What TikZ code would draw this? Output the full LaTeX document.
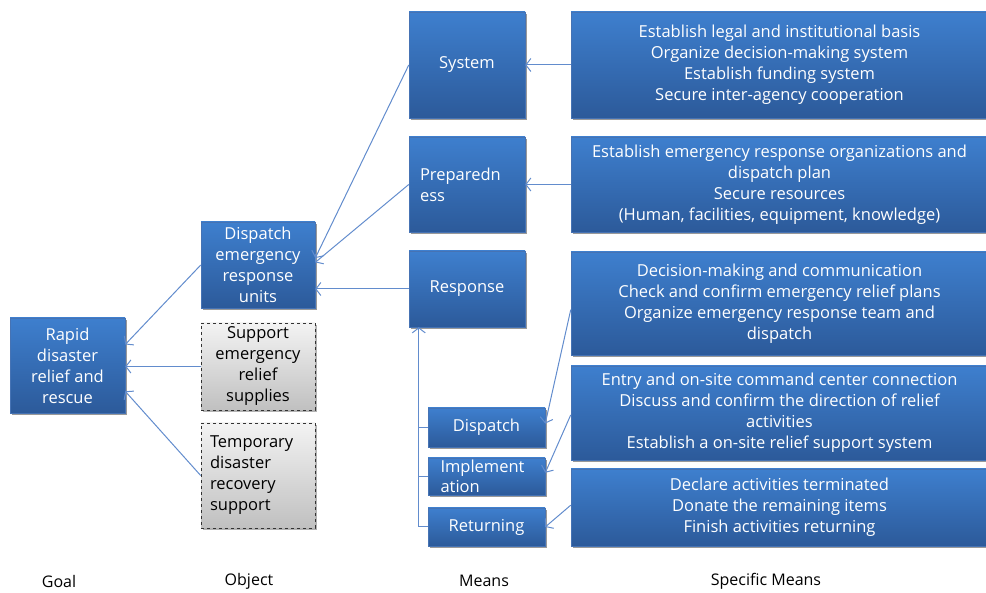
\documentclass[tikz,border=0pt]{standalone}
\usepackage{fontspec}
\setmainfont{Open Sans}
\usetikzlibrary{arrows.meta,shadows,calc}
\definecolor{btop}{RGB}{62,127,206}
\definecolor{bbot}{RGB}{44,90,154}
\definecolor{bedge}{RGB}{70,115,180}
\definecolor{gtop}{RGB}{243,243,243}
\definecolor{gbot}{RGB}{192,192,192}
\definecolor{conn}{RGB}{98,140,205}
\tikzset{
  bluebox/.style={draw=bedge, line width=0.5pt, top color=btop, bottom color=bbot,
    text=white, font=\fontsize{16.5}{21}\selectfont, align=center, inner sep=2pt,
    drop shadow={shadow xshift=2pt, shadow yshift=-2.5pt, opacity=0.4, fill=black}},
  greybox/.style={draw=black!80, dashed, line width=0.7pt, top color=gtop, bottom color=gbot,
    text=black, font=\fontsize{16.5}{21}\selectfont, align=center, inner sep=2pt,
    drop shadow={shadow xshift=2pt, shadow yshift=-2.5pt, opacity=0.3, fill=black}},
  conn/.style={draw=conn, line width=1pt, -{Straight Barb[length=5pt,width=13pt]}},
  plain/.style={draw=conn, line width=1pt},
  caption/.style={font=\fontsize{16}{19}\selectfont, text=black}
}
\begin{document}
\begin{tikzpicture}[x=1pt,y=-1pt]
\useasboundingbox (0,0) rectangle (986,593);
% Goal
\node[bluebox, minimum width=115, minimum height=95] (goal) at (67.5,365.5) {Rapid\\disaster\\relief and\\rescue};
% Objects
\node[bluebox, minimum width=114, minimum height=86] (de) at (258,265) {Dispatch\\emergency\\response\\units};
\node[greybox, minimum width=114, minimum height=87] (sup) at (258,366.5) {Support\\emergency\\relief\\supplies};
\node[greybox, minimum width=114, minimum height=105, align=left, text width=96] (tmp) at (258,475.5) {Temporary\\disaster\\recovery\\support};
% Means
\node[bluebox, minimum width=116, minimum height=106] (sys) at (467,65) {System};
\node[bluebox, minimum width=116, minimum height=95, align=left, text width=94] (prep) at (467,184.5) {Preparedn\\ess};
\node[bluebox, minimum width=116, minimum height=76] (resp) at (467,289) {Response};
\node[bluebox, minimum width=117, minimum height=39] (disp) at (486.5,427.5) {Dispatch};
\node[bluebox, minimum width=117, minimum height=37, align=left, text width=92, inner sep=0pt, font=\fontsize{16.5}{20}\selectfont] (impl) at (486.5,476.5) {Implement\\ation};
\node[bluebox, minimum width=117, minimum height=38] (ret) at (486.5,527) {Returning};
% Specific means
\node[bluebox, minimum width=417, minimum height=106] (s1) at (779.5,65) {Establish legal and institutional basis\\Organize decision-making system\\Establish funding system\\Secure inter-agency cooperation};
\node[bluebox, minimum width=417, minimum height=95] (s2) at (779.5,184.5) {Establish emergency response organizations and\\dispatch plan\\Secure resources\\(Human, facilities, equipment, knowledge)};
\node[bluebox, minimum width=417, minimum height=103] (s3) at (779.5,303.5) {Decision-making and communication\\Check and confirm emergency relief plans\\Organize emergency response team and\\dispatch};
\node[bluebox, minimum width=417, minimum height=94] (s4) at (779.5,413) {Entry and on-site command center connection\\Discuss and confirm the direction of relief\\activities\\Establish a on-site relief support system};
\node[bluebox, minimum width=417, minimum height=77] (s5) at (779.5,507.5) {Declare activities terminated\\Donate the remaining items\\Finish activities returning};
% Captions
\node[caption] (cg) at (59,581) {Goal};
\node[caption] (co) at (249,581) {Object};
\node[caption] (cm) at (484,581) {Means};
\node[caption] (cs) at (766,581) {Specific Means};
% Connectors: specific -> means
\draw[conn] (s1.west) -- (sys.east);
\draw[conn] (s2.west) -- (prep.east);
\draw[conn] ($(s3.north west)!0.56!(s3.south west)$) -- ($(disp.north east)!0.4!(disp.south east)$);
\draw[conn] ($(s4.north west)!0.52!(s4.south west)$) -- ($(impl.north east)!0.4!(impl.south east)$);
\draw[conn] ($(s5.north west)!0.47!(s5.south west)$) -- ($(ret.north east)!0.5!(ret.south east)$);
% means -> object
\draw[conn] (sys.west) -- ($(de.north east)!0.42!(de.south east)$);
\draw[conn] (prep.west) -- ($(de.north east)!0.47!(de.south east)$);
\draw[conn] (resp.west) -- (de.east |- resp.west);
% object -> goal
\draw[conn] (de.west) -- ($(goal.north east)!0.28!(goal.south east)$);
\draw[conn] (sup.west) -- (goal.east |- sup.west);
\draw[conn] (tmp.west) -- ($(goal.north east)!0.77!(goal.south east)$);
% feedback to response
\coordinate (fb) at ($(resp.south west)+(10,0)$);
\draw[conn] (ret.west) -| (fb);
\draw[plain] (disp.west) -- (fb |- disp.west);
\draw[plain] (impl.west) -- (fb |- impl.west);
\end{tikzpicture}
\end{document}
